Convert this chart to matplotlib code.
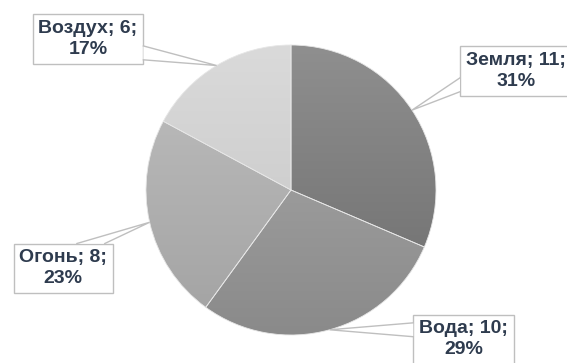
import matplotlib
matplotlib.use('Agg')
import matplotlib.pyplot as plt
from matplotlib.patches import Polygon
from matplotlib.colors import to_rgb
import numpy as np

plt.rcParams['font.family'] = ['Liberation Sans', 'DejaVu Sans']

# data
labels = ['Земля', 'Вода', 'Огонь', 'Воздух']
values = [11, 10, 8, 6]
# gradient colours of each slice (top of pie -> bottom of pie)
top_colors = ['#8f8f8f', '#ababab', '#bfbfbf', '#dadada']
bottom_colors = ['#6c6c6c', '#8a8a8a', '#a2a2a2', '#c4c4c4']
# label box centres, in pie radii from the centre
label_x = [1.55, 1.19, -1.57, -1.40]
label_y = [0.82, -1.03, -0.54, 1.04]
pointer_side = ['left', 'left', 'top', 'right']

text_color = '#2e3b4e'
box_color = '#bfbfbf'

fig = plt.figure(figsize=(5.67, 3.63), dpi=100)
ax = fig.add_axes([0, 0, 1, 1])
ax.set_axis_off()

wedges, _ = ax.pie(values, startangle=90, counterclock=False, radius=1,
                   colors=top_colors,
                   wedgeprops=dict(edgecolor='#e6e6e6', linewidth=0.6))

# vertical gradient fill clipped to each slice
n = 256
t = np.linspace(0, 1, n)[:, None, None]
for w, c0, c1 in zip(wedges, top_colors, bottom_colors):
    grad = (1 - t) * np.array(to_rgb(c0)) + t * np.array(to_rgb(c1))
    im = ax.imshow(grad, extent=[-1, 1, -1, 1], origin='upper',
                   aspect='auto', zorder=w.get_zorder() + 0.1)
    im.set_clip_path(w)
for w in wedges:
    w.set_facecolor('none')
    w.set_zorder(3)

# pie of radius 145 px centred at (291, 190) on a 567x363 canvas
ax.set_xlim(-291 / 145, (567 - 291) / 145)
ax.set_ylim(-(363 - 190) / 145, 190 / 145)
ax.set_aspect('equal')

total = sum(values)
texts = []
for lab, v, x, y in zip(labels, values, label_x, label_y):
    pct = round(100 * v / total)
    txt = ax.text(x, y, f'{lab}; {v};\n{pct}%', ha='center', va='center',
                  fontsize=14, fontweight='bold', color=text_color,
                  linespacing=1.3, zorder=5,
                  bbox=dict(boxstyle='square,pad=0.3', fc='white',
                            ec=box_color, lw=1.0))
    texts.append(txt)

fig.canvas.draw()
inv = ax.transData.inverted()

# callout pointers from the boxes to the middle of each slice's edge
angles = 90 - 360 * (np.cumsum(values) - np.array(values) / 2) / total
for txt, ang, side in zip(texts, angles, pointer_side):
    tip = np.array([np.cos(np.radians(ang)), np.sin(np.radians(ang))])
    bb = txt.get_bbox_patch().get_window_extent()
    (x0, y0), (x1, y1) = inv.transform([[bb.x0, bb.y0], [bb.x1, bb.y1]])
    if side in ('left', 'right'):
        ex = x0 if side == 'left' else x1
        h = 0.14 * (y1 - y0)
        cy = np.clip(tip[1], y0 + 1.6 * h, y1 - 1.6 * h)
        b1, b2 = (ex, cy + h), (ex, cy - h)
    else:
        ey = y1 if side == 'top' else y0
        h = 0.14 * (x1 - x0)
        cx = np.clip(tip[0], x0 + 1.6 * h, x1 - 1.6 * h)
        b1, b2 = (cx - h, ey), (cx + h, ey)
    tri = Polygon([b1, tip, b2], closed=True, fc='white', ec='none', zorder=6)
    ax.add_patch(tri)
    ax.plot([b1[0], tip[0], b2[0]], [b1[1], tip[1], b2[1]],
            color=box_color, lw=1.0, zorder=6, solid_joinstyle='miter')

fig.savefig('out.png', dpi=100)
